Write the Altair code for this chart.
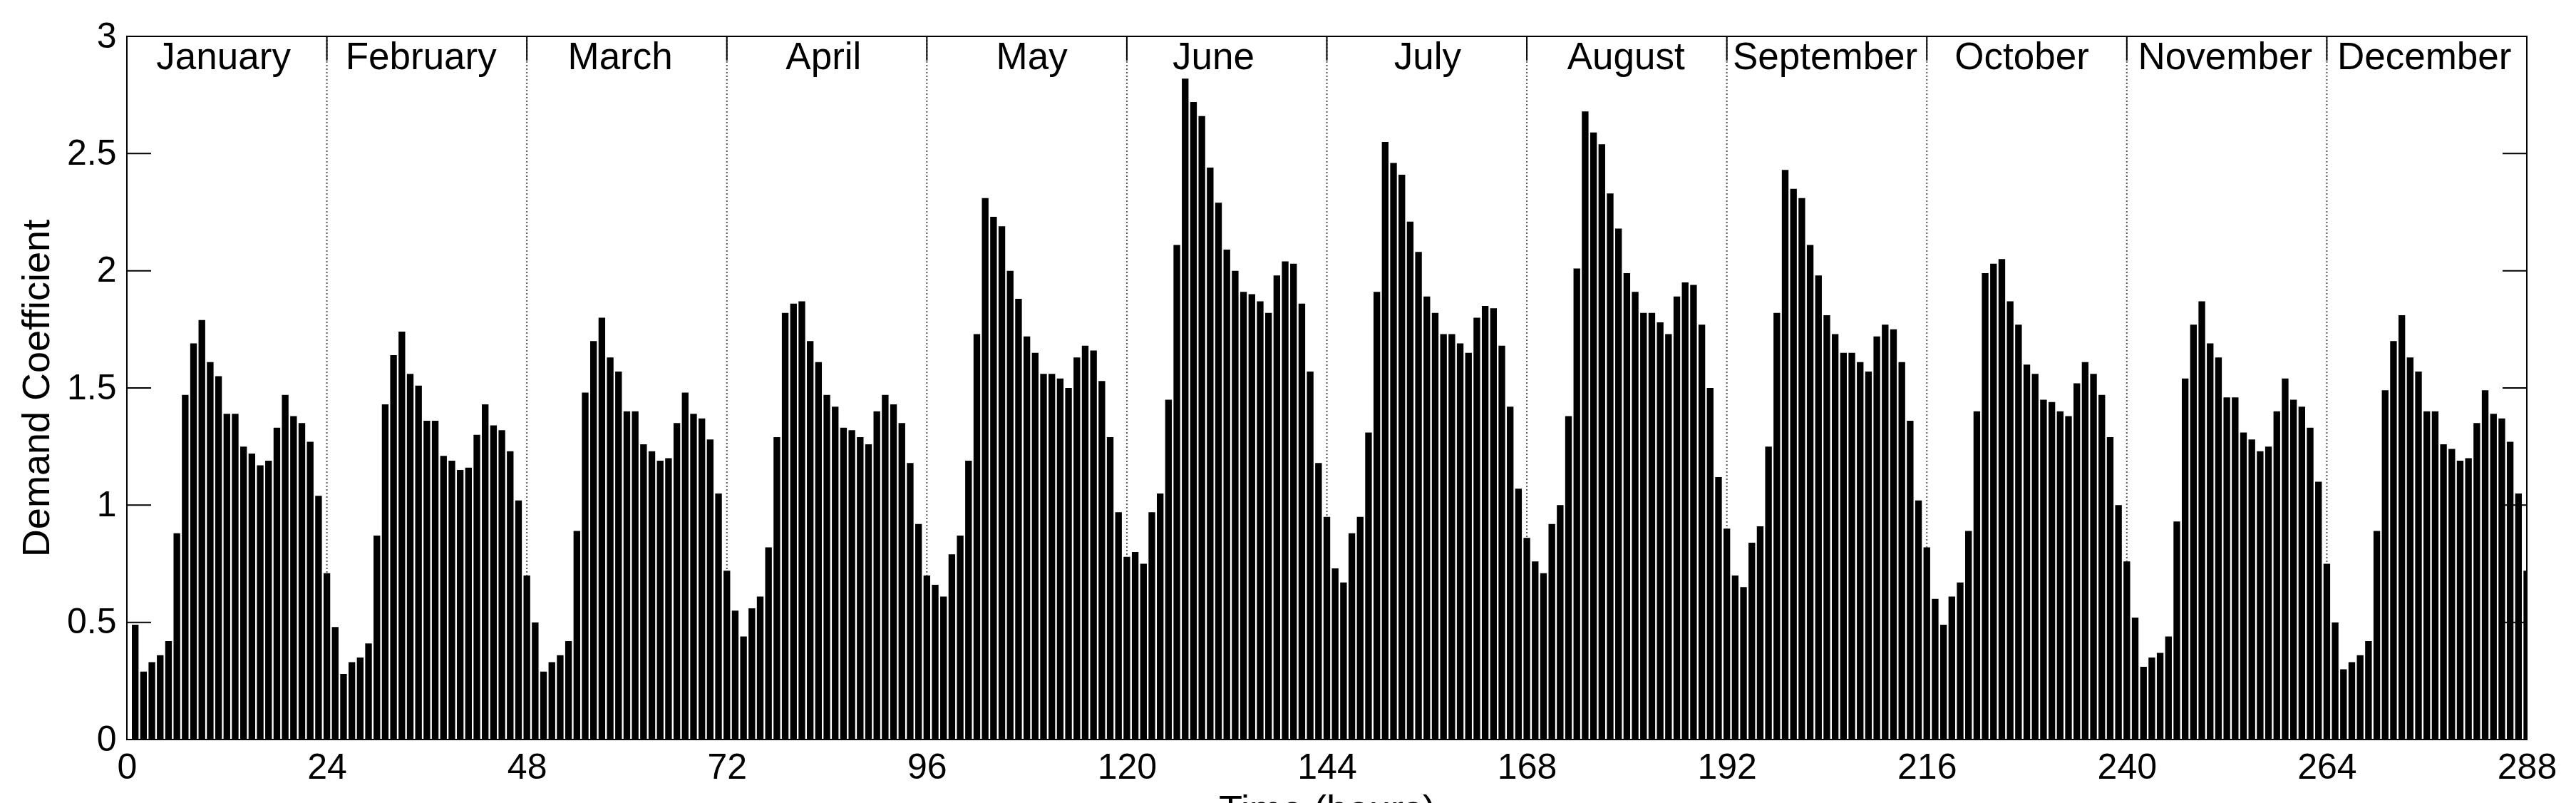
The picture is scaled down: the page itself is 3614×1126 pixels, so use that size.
import altair as alt
import pandas as pd

# ---- data (demand coefficient per hour, 24 per month) ----
jan = [0.49, 0.29, 0.33, 0.36, 0.42, 0.88, 1.47, 1.69, 1.79, 1.61, 1.55, 1.39,
       1.39, 1.25, 1.22, 1.17, 1.19, 1.33, 1.47, 1.38, 1.35, 1.27, 1.04, 0.71]
feb = [0.48, 0.28, 0.33, 0.35, 0.41, 0.87, 1.43, 1.64, 1.74, 1.56, 1.51, 1.36,
       1.36, 1.21, 1.19, 1.15, 1.16, 1.30, 1.43, 1.34, 1.32, 1.23, 1.02, 0.70]
mar = [0.50, 0.29, 0.33, 0.36, 0.42, 0.89, 1.48, 1.70, 1.80, 1.63, 1.57, 1.40,
       1.40, 1.26, 1.23, 1.19, 1.20, 1.35, 1.48, 1.39, 1.37, 1.28, 1.05, 0.72]
apr = [0.55, 0.44, 0.56, 0.61, 0.82, 1.29, 1.82, 1.86, 1.87, 1.70, 1.61, 1.47,
       1.42, 1.33, 1.32, 1.29, 1.26, 1.40, 1.47, 1.43, 1.35, 1.18, 0.92, 0.70]
may = [0.66, 0.61, 0.79, 0.87, 1.19, 1.73, 2.31, 2.23, 2.19, 2.00, 1.88, 1.72,
       1.65, 1.56, 1.56, 1.54, 1.50, 1.63, 1.68, 1.66, 1.53, 1.29, 0.97, 0.78]
jun = [0.80, 0.75, 0.97, 1.05, 1.45, 2.11, 2.82, 2.72, 2.66, 2.44, 2.29, 2.09,
       2.00, 1.91, 1.90, 1.87, 1.82, 1.98, 2.04, 2.03, 1.86, 1.57, 1.18, 0.95]
jul = [0.73, 0.67, 0.88, 0.95, 1.31, 1.91, 2.55, 2.46, 2.41, 2.21, 2.08, 1.89,
       1.82, 1.73, 1.73, 1.69, 1.65, 1.80, 1.85, 1.84, 1.68, 1.42, 1.07, 0.86]
aug = [0.76, 0.71, 0.92, 1.00, 1.38, 2.01, 2.68, 2.59, 2.54, 2.33, 2.18, 1.99,
       1.91, 1.82, 1.82, 1.78, 1.73, 1.89, 1.95, 1.94, 1.77, 1.50, 1.12, 0.90]
sep = [0.70, 0.65, 0.84, 0.91, 1.25, 1.82, 2.43, 2.35, 2.31, 2.11, 1.98, 1.81,
       1.73, 1.65, 1.65, 1.61, 1.57, 1.72, 1.77, 1.75, 1.61, 1.36, 1.02, 0.82]
oct_ = [0.60, 0.49, 0.61, 0.67, 0.89, 1.40, 1.99, 2.03, 2.05, 1.87, 1.77, 1.60,
        1.56, 1.45, 1.44, 1.40, 1.38, 1.52, 1.61, 1.56, 1.47, 1.29, 1.00, 0.76]
nov = [0.52, 0.31, 0.35, 0.37, 0.44, 0.93, 1.54, 1.77, 1.87, 1.69, 1.63, 1.46,
       1.46, 1.31, 1.28, 1.23, 1.25, 1.40, 1.54, 1.45, 1.42, 1.33, 1.10, 0.75]
dec = [0.50, 0.30, 0.33, 0.36, 0.42, 0.89, 1.49, 1.70, 1.81, 1.63, 1.57, 1.40,
       1.40, 1.26, 1.24, 1.19, 1.20, 1.35, 1.49, 1.39, 1.37, 1.27, 1.05, 0.72]

months = ["January", "February", "March", "April", "May", "June", "July",
          "August", "September", "October", "November", "December"]
month_label_hour = [11.6, 35.3, 59.2, 83.6, 108.6, 130.4, 156.1, 179.9,
                    203.8, 227.4, 251.8, 275.7]
month_label_level = 2.86
month_bounds = [24, 48, 72, 96, 120, 144, 168, 192, 216, 240, 264]
x_ticks = [0, 24, 48, 72, 96, 120, 144, 168, 192, 216, 240, 264, 288]
y_ticks = [0, 0.5, 1, 1.5, 2, 2.5, 3]

# ---- tables ----
values = jan + feb + mar + apr + may + jun + jul + aug + sep + oct_ + nov + dec
bars_df = pd.DataFrame({"hour": list(range(1, len(values) + 1)), "value": values})
labels_df = pd.DataFrame({"hour": month_label_hour, "month": months,
                          "level": [month_label_level] * len(months)})
bounds_df = pd.DataFrame({"hour": month_bounds})
xt_df = pd.DataFrame({"hour": x_ticks})
yt_df = pd.DataFrame({"value": y_ticks})

W, H = 3367, 986
TICK = 34
FONT = "Liberation Sans"

xscale = alt.Scale(domain=[0, 288], nice=False, zero=False)
yscale = alt.Scale(domain=[0, 3], nice=False)

x_axis = alt.Axis(
    values=x_ticks, format="d", title="Time (hours)",
    ticks=False, tickSize=0, domain=False, grid=False,
    labelFontSize=50, labelPadding=14, labelFlush=False,
    titleFontSize=54, titleFontWeight="normal",
    titleBaseline="top", titleY=72)
y_axis = alt.Axis(
    values=y_ticks, format="~g", title="Demand Coefficient",
    ticks=False, tickSize=0, domain=False, grid=False,
    labelFontSize=50, labelPadding=15,
    titleFontSize=54, titleFontWeight="normal",
    titleAngle=270, titleBaseline="alphabetic", titleAlign="center",
    titleX=-110, titleY=H / 2)

dotted = alt.Chart(bounds_df).mark_rule(
    strokeDash=[2, 3], strokeWidth=2, color="#555555"
).encode(
    x=alt.X("hour:Q", scale=xscale, axis=x_axis),
    y=alt.value(0), y2=alt.value(H),
)

top_ticks = alt.Chart(xt_df).mark_rule(strokeWidth=2, color="black").encode(
    x=alt.X("hour:Q", scale=xscale, axis=x_axis),
    y=alt.value(0), y2=alt.value(TICK),
)
bottom_ticks = alt.Chart(xt_df).mark_rule(strokeWidth=2, color="black").encode(
    x=alt.X("hour:Q", scale=xscale, axis=x_axis),
    y=alt.value(H - TICK), y2=alt.value(H),
)
left_ticks = alt.Chart(yt_df).mark_rule(strokeWidth=2, color="black").encode(
    y=alt.Y("value:Q", scale=yscale, axis=y_axis),
    x=alt.value(0), x2=alt.value(TICK),
)
right_ticks = alt.Chart(yt_df).mark_rule(strokeWidth=2, color="black").encode(
    y=alt.Y("value:Q", scale=yscale, axis=y_axis),
    x=alt.value(W - TICK), x2=alt.value(W),
)

bars = alt.Chart(bars_df).transform_calculate(
    x0="datum.hour - 0.4", x1="datum.hour + 0.4"
).mark_rect(color="black", clip=True).encode(
    x=alt.X("x0:Q", scale=xscale, axis=x_axis),
    x2="x1:Q",
    y=alt.Y("value:Q", scale=yscale, axis=y_axis),
    y2=alt.datum(0),
)

texts = alt.Chart(labels_df).mark_text(
    font=FONT, fontSize=53, align="center", baseline="alphabetic", color="black"
).encode(
    x=alt.X("hour:Q", scale=xscale, axis=x_axis),
    y=alt.Y("level:Q", scale=yscale, axis=y_axis),
    text="month:N",
)

chart = alt.layer(
    dotted, top_ticks, bottom_ticks, left_ticks, right_ticks, bars, texts
).properties(
    width=W, height=H,
    padding={"left": 170, "top": 43, "right": 50, "bottom": 89},
    autosize=alt.AutoSizeParams(type="none"),
    background="white",
).configure_view(
    stroke="black", strokeWidth=2
).configure_axis(
    labelFont=FONT, titleFont=FONT, labelColor="black", titleColor="black"
)

chart.save("out.html", embed_options={"renderer": "svg", "actions": False})
